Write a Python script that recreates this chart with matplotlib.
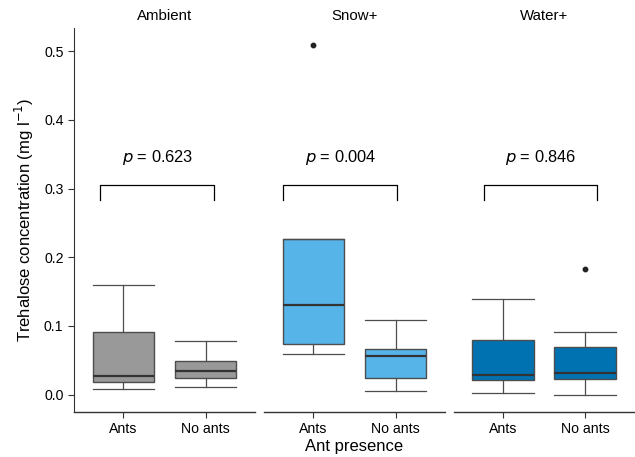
import matplotlib
matplotlib.use("Agg")
import matplotlib.pyplot as plt

plt.rcParams['font.family'] = ['Liberation Sans', 'DejaVu Sans']

panels = ["Ambient", "Snow+", "Water+"]
groups = ["Ants", "No ants"]
colors = ["#999999", "#56B4E9", "#0072B2"]

# per panel, per group: whisker low, q1, median, q3, whisker high
whislo = [[0.0087, 0.0106], [0.059, 0.0058], [0.0029, 0.000]]
q1 = [[0.019, 0.0247], [0.074, 0.0242], [0.0218, 0.0228]]
med = [[0.0266, 0.035], [0.130, 0.0567], [0.029, 0.032]]
q3 = [[0.091, 0.0494], [0.226, 0.0669], [0.080, 0.069]]
whishi = [[0.160, 0.0775], [0.226, 0.109], [0.1395, 0.0911]]
outliers = [[[], []], [[0.509], []], [[], [0.1827]]]
p_values = ["0.623", "0.004", "0.846"]

# bracket extents (x in category units) per panel
bracket_x = [(0.72, 2.105), (0.635, 2.02), (0.765, 2.15)]

fig = plt.figure(figsize=(6.35, 4.57), dpi=100)
lefts = [74 / 635, 264 / 635, 453.5 / 635]
width = 181 / 635
bottom = 1 - 412 / 457
height = (412 - 28) / 457

edge = "#4d4d4d"
for i, name in enumerate(panels):
    ax = fig.add_axes([lefts[i], bottom, width, height])
    stats = []
    for j, g in enumerate(groups):
        stats.append(dict(whislo=whislo[i][j], q1=q1[i][j], med=med[i][j],
                          q3=q3[i][j], whishi=whishi[i][j],
                          fliers=outliers[i][j], label=g))
    ax.bxp(stats, positions=[1, 2], widths=0.75, patch_artist=True,
           showfliers=True,
           boxprops=dict(facecolor=colors[i], edgecolor=edge, linewidth=1.0),
           medianprops=dict(color="#333333", linewidth=1.6),
           whiskerprops=dict(color=edge, linewidth=0.9),
           capprops=dict(color=edge, linewidth=0.9),
           capwidths=0.75,
           flierprops=dict(marker='o', markersize=3.2, markerfacecolor="#222222",
                           markeredgecolor="#222222"))
    ax.set_xlim(0.4, 2.6)
    ax.set_ylim(-0.0254, 0.534)
    # bracket
    bl, br = bracket_x[i]
    ax.plot([bl, bl, br, br], [0.283, 0.305, 0.305, 0.283], color="black", linewidth=0.9)
    ax.text((bl + br) / 2, 0.346, r"$\it{p}$ = " + p_values[i], ha='center', va='center',
            fontsize=11.8)
    ax.set_title(name, fontsize=10.8, pad=6)
    for s in ['top', 'right']:
        ax.spines[s].set_visible(False)
    ax.spines['bottom'].set_linewidth(1.0)
    ax.spines['bottom'].set_color('#333333')
    ax.tick_params(axis='x', length=4, labelsize=10.2, colors='#333333', labelcolor='black')
    ax.set_xticks([1, 2])
    ax.set_xticklabels(groups)
    if i == 0:
        ax.set_yticks([0.0, 0.1, 0.2, 0.3, 0.4, 0.5])
        ax.set_yticklabels(["0.0", "0.1", "0.2", "0.3", "0.4", "0.5"])
        ax.tick_params(axis='y', length=4, labelsize=10.2, colors='#333333', labelcolor='black')
        ax.spines['left'].set_color('#333333')
        ax.set_ylabel(r"Trehalose concentration (mg l$^{-1}$)", fontsize=12, labelpad=6)
    else:
        ax.spines['left'].set_visible(False)
        ax.set_yticks([])
    if i == 1:
        ax.set_xlabel("Ant presence", fontsize=12, labelpad=2)

fig.savefig("out.png", dpi=100)
